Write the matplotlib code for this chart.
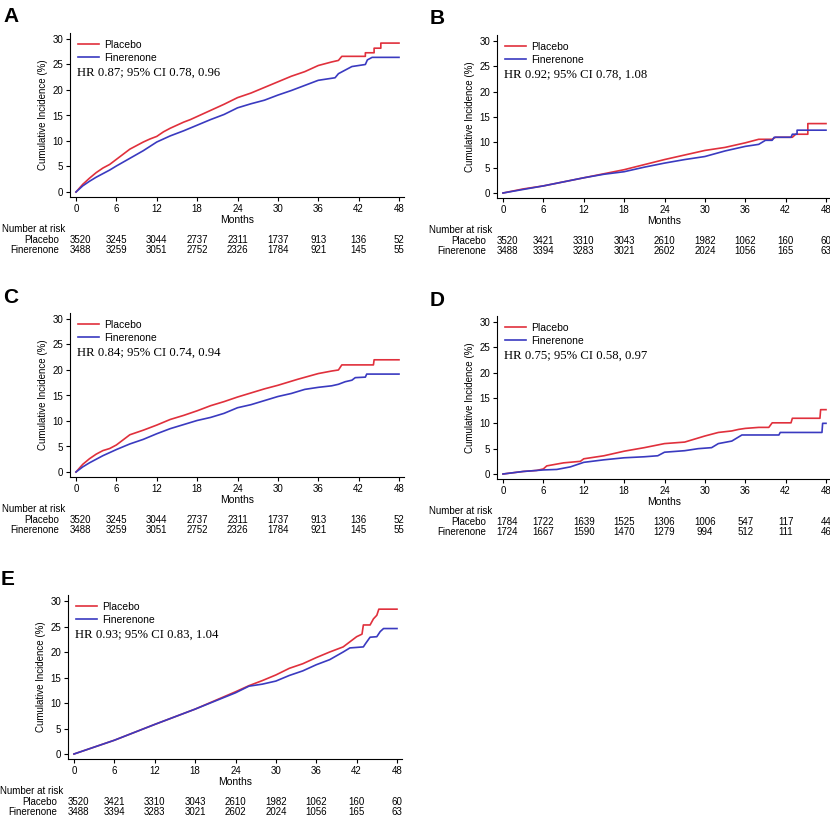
import matplotlib
matplotlib.use("Agg")
import matplotlib.pyplot as plt

# ---- data ----
risk_months = [0, 6, 12, 18, 24, 30, 36, 42, 48]

# Panel A
a_pla_t = [0, 1, 2, 3, 4, 5, 6, 7, 8, 9, 10, 11, 12, 13, 14, 15, 16, 17, 18, 20, 22, 24, 26, 28, 30,
           32, 34, 36, 38, 39, 39.5, 43, 43, 44.3, 44.3, 45.3, 45.3, 48]
a_pla_y = [0, 1.5, 2.7, 3.8, 4.7, 5.4, 6.4, 7.4, 8.4, 9.1, 9.8, 10.4, 10.9, 11.8, 12.5, 13.1, 13.7,
           14.2, 14.8, 16.0, 17.2, 18.5, 19.4, 20.5, 21.6, 22.7, 23.6, 24.8, 25.5, 25.8, 26.6, 26.6,
           27.3, 27.3, 28.2, 28.2, 29.2, 29.2]
a_fin_t = [0, 1, 2, 3, 4, 5, 6, 8, 10, 12, 14, 16, 18, 20, 22, 24, 26, 28, 30, 32, 34, 36, 38.5, 39,
           41, 43, 43.3, 44, 48]
a_fin_y = [0, 1.2, 2.1, 2.9, 3.6, 4.3, 5.1, 6.6, 8.1, 9.8, 11.0, 12.0, 13.1, 14.2, 15.2, 16.5, 17.3,
           18.0, 19.0, 19.9, 20.9, 21.9, 22.4, 23.2, 24.6, 25.0, 25.9, 26.4, 26.4]
a_risk_pla = [3520, 3245, 3044, 2737, 2311, 1737, 913, 136, 52]
a_risk_fin = [3488, 3259, 3051, 2752, 2326, 1784, 921, 145, 55]
a_hr = "HR 0.87; 95% CI 0.78, 0.96"

# Panel B
b_pla_t = [0, 3, 6, 9, 12, 15, 18, 21, 24, 27, 30, 33, 36, 38, 40, 40.5, 43, 43.5, 45.3, 45.3, 48]
b_pla_y = [0, 0.8, 1.4, 2.2, 3.0, 3.8, 4.6, 5.6, 6.6, 7.5, 8.4, 9.0, 9.9, 10.6, 10.6, 11.0, 11.0,
           11.6, 11.6, 13.7, 13.7]
b_fin_t = [0, 3, 6, 9, 12, 15, 18, 21, 24, 27, 30, 33, 36, 38, 39, 40, 40.3, 42.8, 43.0, 43.7, 43.7, 48]
b_fin_y = [0, 0.7, 1.4, 2.2, 3.0, 3.7, 4.2, 5.1, 5.9, 6.6, 7.2, 8.3, 9.2, 9.6, 10.4, 10.4, 11.0, 11.0,
           11.6, 11.6, 12.4, 12.4]
b_risk_pla = [3520, 3421, 3310, 3043, 2610, 1982, 1062, 160, 60]
b_risk_fin = [3488, 3394, 3283, 3021, 2602, 2024, 1056, 165, 63]
b_hr = "HR 0.92; 95% CI 0.78, 1.08"

# Panel C
c_pla_t = [0, 1, 2, 3, 4, 5, 6, 8, 10, 12, 14, 16, 18, 20, 22, 24, 26, 28, 30, 33, 36, 38, 39, 39.5,
           44.2, 44.3, 48]
c_pla_y = [0, 1.5, 2.6, 3.5, 4.2, 4.6, 5.3, 7.3, 8.2, 9.2, 10.3, 11.1, 12.0, 13.0, 13.8, 14.7, 15.5,
           16.3, 17.0, 18.2, 19.3, 19.8, 20.0, 21.0, 21.0, 22.0, 22.0]
c_fin_t = [0, 1, 2, 3, 4, 6, 8, 10, 12, 14, 16, 18, 20, 22, 24, 26, 28, 30, 32, 34, 36, 38, 39, 40,
           41, 41.5, 43.0, 43.2, 48]
c_fin_y = [0, 1.0, 1.8, 2.5, 3.2, 4.4, 5.5, 6.4, 7.5, 8.5, 9.3, 10.1, 10.7, 11.5, 12.6, 13.2, 14.0,
           14.8, 15.4, 16.2, 16.6, 16.9, 17.2, 17.7, 18.0, 18.5, 18.6, 19.2, 19.2]
c_risk_pla = [3520, 3245, 3044, 2737, 2311, 1737, 913, 136, 52]
c_risk_fin = [3488, 3259, 3051, 2752, 2326, 1784, 921, 145, 55]
c_hr = "HR 0.84; 95% CI 0.74, 0.94"

# Panel D
d_pla_t = [0, 3, 5, 6, 6.5, 9, 11.5, 12, 15, 18, 21, 24, 27, 28, 30, 32, 34, 35, 36, 38, 39.5, 40,
           42.8, 43, 47.1, 47.2, 48]
d_pla_y = [0, 0.5, 0.7, 1.0, 1.6, 2.2, 2.5, 3.0, 3.6, 4.5, 5.2, 6.0, 6.3, 6.7, 7.5, 8.2, 8.5, 8.8,
           9.0, 9.2, 9.2, 10.1, 10.1, 11.0, 11.0, 12.7, 12.7]
d_fin_t = [0, 3, 6, 8, 10, 12, 15, 18, 21, 23, 24, 27, 29, 31, 32, 34, 35.5, 41, 41.2, 47.4, 47.5, 48]
d_fin_y = [0, 0.5, 0.8, 0.9, 1.4, 2.3, 2.8, 3.2, 3.4, 3.6, 4.3, 4.6, 5.0, 5.2, 6.0, 6.5, 7.7, 7.7,
           8.2, 8.2, 10.0, 10.0]
d_risk_pla = [1784, 1722, 1639, 1525, 1306, 1006, 547, 117, 44]
d_risk_fin = [1724, 1667, 1590, 1470, 1279, 994, 512, 111, 46]
d_hr = "HR 0.75; 95% CI 0.58, 0.97"

# Panel E
e_pla_t = [0, 6, 12, 18, 24, 26, 28, 30, 32, 34, 36, 38, 40, 41, 42, 42.8, 43, 44, 44.5, 45, 45.3, 48]
e_pla_y = [0, 2.7, 5.8, 8.8, 12.2, 13.4, 14.4, 15.5, 16.8, 17.7, 18.9, 20.0, 21.0, 22.0, 23.0, 23.5,
           25.3, 25.3, 26.5, 27.2, 28.4, 28.4]
e_fin_t = [0, 6, 12, 18, 24, 26, 28, 30, 32, 34, 36, 38, 40, 41, 43, 43.3, 44, 45, 45.5, 46, 48]
e_fin_y = [0, 2.7, 5.8, 8.8, 12.0, 13.3, 13.7, 14.3, 15.4, 16.3, 17.5, 18.5, 20.0, 20.8, 21.0, 21.6,
           22.9, 23.0, 24.0, 24.6, 24.6]
e_risk_pla = [3520, 3421, 3310, 3043, 2610, 1982, 1062, 160, 60]
e_risk_fin = [3488, 3394, 3283, 3021, 2602, 2024, 1056, 165, 63]
e_hr = "HR 0.93; 95% CI 0.83, 1.04"

RED = "#e0303c"
BLUE = "#3a3ac0"
SANS = "Liberation Sans"
SERIF = "Liberation Serif"
W = H = 830.0

fig = plt.figure(figsize=(8.3, 8.3), dpi=100)


def fx(px):
    return px / W


def fy(py):
    return 1 - py / H


def draw_panel(letter, x0, x48, y0, y30, pla, fin, risk_pla, risk_fin, hr):
    """Draw one cumulative incidence panel; x0/x48/y0/y30 are pixel anchors."""
    sx = (x48 - x0) / 48.0
    sy = (y0 - y30) / 30.0
    left, right = x0 - 6, x48 + 5
    top, bottom = y30 - 6, y0 + 5
    ax = fig.add_axes([fx(left), fy(bottom), fx(right - left), (bottom - top) / H])
    ax.set_xlim(-6 / sx, 48 + 5 / sx)
    ax.set_ylim(-5 / sy, 30 + 6 / sy)

    ax.plot(pla[0], pla[1], color=RED, lw=1.2, label="Placebo")
    ax.plot(fin[0], fin[1], color=BLUE, lw=1.2, label="Finerenone")

    for s in ["top", "right"]:
        ax.spines[s].set_visible(False)
    for s in ["left", "bottom"]:
        ax.spines[s].set_linewidth(0.8)
    ax.set_xticks(risk_months)
    ax.set_yticks(range(0, 31, 5))
    ax.tick_params(labelsize=7, length=3, width=0.8, pad=2)
    for lab in ax.get_xticklabels() + ax.get_yticklabels():
        lab.set_fontfamily(SANS)
    ax.set_xlabel("Months", fontsize=7.5, family=SANS, labelpad=1)
    ax.set_ylabel("Cumulative Incidence (%)", fontsize=7, family=SANS, labelpad=3)

    ax.legend(loc="upper left", bbox_to_anchor=(fx(x0 + 2), fy(y30 + 1)),
              bbox_transform=fig.transFigure, frameon=False,
              prop={"family": SANS, "size": 7.5}, handlelength=2.0,
              handletextpad=0.5, labelspacing=0.3, borderaxespad=0, borderpad=0)
    fig.text(fx(x0 + 1), fy(y30 + 34), hr, family=SERIF, fontsize=9.2, va="center")

    fig.text(fx(x0 - 73), fy(y30 - 22), letter, family=SANS, fontsize=15,
             fontweight="bold", va="center")

    # number at risk table
    fig.text(fx(x0 - 74), fy(y0 + 37), "Number at risk", family=SANS, fontsize=7, va="center")
    fig.text(fx(x0 - 17), fy(y0 + 48), "Placebo", family=SANS, fontsize=7, va="center", ha="right")
    fig.text(fx(x0 - 17), fy(y0 + 58), "Finerenone", family=SANS, fontsize=7, va="center", ha="right")
    for m, p, f in zip(risk_months, risk_pla, risk_fin):
        xp = fx(x0 + m * sx + (4 if m == 0 else 0))
        fig.text(xp, fy(y0 + 48), str(p), family=SANS, fontsize=7, va="center", ha="center")
        fig.text(xp, fy(y0 + 58), str(f), family=SANS, fontsize=7, va="center", ha="center")
    return ax


draw_panel("A", 76, 399, 192, 39, (a_pla_t, a_pla_y), (a_fin_t, a_fin_y), a_risk_pla, a_risk_fin, a_hr)
draw_panel("B", 503, 826, 193, 41, (b_pla_t, b_pla_y), (b_fin_t, b_fin_y), b_risk_pla, b_risk_fin, b_hr)
draw_panel("C", 76, 399, 472, 319, (c_pla_t, c_pla_y), (c_fin_t, c_fin_y), c_risk_pla, c_risk_fin, c_hr)
draw_panel("D", 503, 826, 474, 322, (d_pla_t, d_pla_y), (d_fin_t, d_fin_y), d_risk_pla, d_risk_fin, d_hr)
draw_panel("E", 74, 397, 754, 601, (e_pla_t, e_pla_y), (e_fin_t, e_fin_y), e_risk_pla, e_risk_fin, e_hr)

fig.savefig("out.png", dpi=100, facecolor="white")
